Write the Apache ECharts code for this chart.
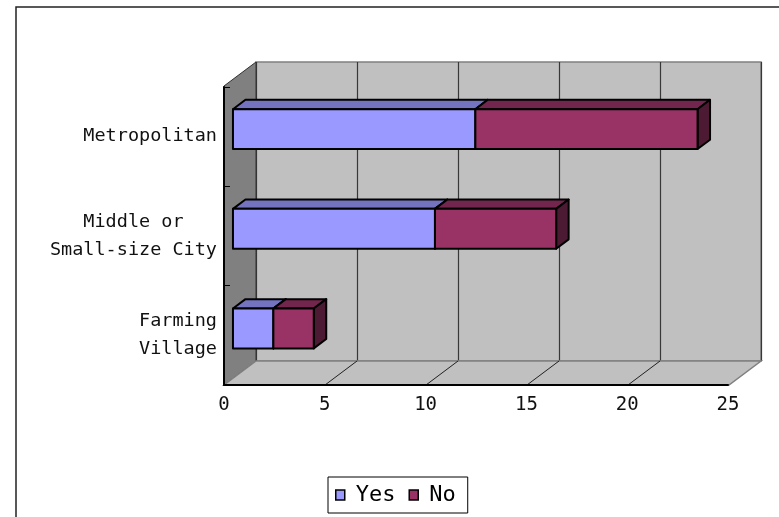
<!DOCTYPE html>
<html>
<head>
<meta charset="utf-8">
<script src="https://cdn.jsdelivr.net/npm/echarts@6/dist/echarts.min.js"></script>
<style>
  html, body { margin: 0; padding: 0; background: #fff; }
  #chart { width: 779px; height: 517px; }
</style>
</head>
<body>
<div id="chart"></div>
<script>
// data
const categories = ['Metropolitan', 'Middle or\nSmall-size City', 'Farming\nVillage'];
const yesValues = [12, 10, 2];
const noValues = [11, 6, 2];
const floorTicks = [5, 10, 15, 20];

const FONT = 'DejaVu Sans Mono';
// depth of the 3d box (front floor edge relative to back wall)
const DX = -32, DY = 24;
// where the bars sit inside that depth (0 = back wall, 1 = front)
const BAR_FRONT = 0.72, BAR_BACK = 0.33;

const chart = echarts.init(document.getElementById('chart'));

// stack Yes + No
const yesData = yesValues.map((v, i) => [0, v, i]);
const noData = noValues.map((v, i) => [yesValues[i], yesValues[i] + v, i]);

function centerLines(text) {
  const lines = text.split('\n');
  const w = Math.max(...lines.map(l => l.length));
  return lines.map(l => l + ' '.repeat(Math.floor((w - l.length) / 2))).join('\n');
}

function renderWalls(params, api) {
  const cs = params.coordSys;
  const x0 = cs.x, y0 = cs.y, x1 = cs.x + cs.width, y1 = cs.y + cs.height;
  const children = [
    { // left side wall
      type: 'polygon',
      shape: { points: [[x0, y0], [x0, y1], [x0 + DX, y1 + DY], [x0 + DX, y0 + DY]] },
      style: { fill: '#808080', stroke: '#303030', lineWidth: 1 }
    },
    { // floor
      type: 'polygon',
      shape: { points: [[x0, y1], [x1, y1], [x1 + DX, y1 + DY], [x0 + DX, y1 + DY]] },
      style: { fill: '#c0c0c0', stroke: '#808080', lineWidth: 1.5 }
    }
  ];
  floorTicks.forEach(v => {
    const x = api.coord([v, 0])[0];
    children.push({
      type: 'line',
      shape: { x1: x, y1: y1, x2: x + DX, y2: y1 + DY },
      style: { stroke: '#202020', lineWidth: 1 }
    });
  });
  return { type: 'group', children: children };
}

function makeBarRenderer(front, top, side) {
  return function (params, api) {
    const lo = api.coord([api.value(0), api.value(2)]);
    const hi = api.coord([api.value(1), api.value(2)]);
    const h = api.size([0, 1])[1] * 0.4;
    const fx = DX * BAR_FRONT, fy = DY * BAR_FRONT;
    const bx = DX * BAR_BACK, by = DY * BAR_BACK;
    const fx0 = lo[0] + fx, fx1 = hi[0] + fx, ft = lo[1] + fy - h / 2;
    const bx0 = lo[0] + bx, bx1 = hi[0] + bx, bt = lo[1] + by - h / 2;
    const line = { stroke: '#000', lineWidth: 2, lineJoin: 'round' };
    return {
      type: 'group',
      children: [
        { type: 'polygon', shape: { points: [[fx0, ft], [fx1, ft], [bx1, bt], [bx0, bt]] },
          style: Object.assign({ fill: top }, line) },
        { type: 'polygon', shape: { points: [[fx1, ft], [bx1, bt], [bx1, bt + h], [fx1, ft + h]] },
          style: Object.assign({ fill: side }, line) },
        { type: 'rect', shape: { x: fx0, y: ft, width: fx1 - fx0, height: h },
          style: Object.assign({ fill: front }, line) }
      ]
    };
  };
}

const option = {
  animation: false,
  backgroundColor: '#fff',
  graphic: [{
    type: 'rect',
    shape: { x: 16, y: 7, width: 820, height: 600 },
    style: { fill: 'none', stroke: '#222', lineWidth: 1.5 },
    z: 0
  }],
  legend: {
    data: ['Yes', 'No'],
    left: 328,
    top: 477,
    orient: 'horizontal',
    padding: [7, 12, 7, 7],
    itemGap: 13,
    itemWidth: 9,
    itemHeight: 10,
    borderColor: '#000',
    borderWidth: 1,
    icon: 'rect',
    itemStyle: { borderColor: '#000', borderWidth: 1.5 },
    textStyle: { fontFamily: FONT, fontSize: 22, color: '#000', padding: [0, 0, 0, 6] }
  },
  grid: [
    { // back wall
      left: 256, top: 62, width: 505, height: 299,
      show: true, backgroundColor: '#c0c0c0', borderColor: '#808080', borderWidth: 1.5,
      outerBoundsMode: 'none'
    },
    { // front plane, carries the visible axes
      left: 224, top: 87, width: 504, height: 298,
      outerBoundsMode: 'none'
    }
  ],
  xAxis: [
    {
      gridIndex: 0, type: 'value', min: 0, max: 25, interval: 5,
      axisLabel: { show: false }, axisLine: { show: false }, axisTick: { show: false },
      splitLine: { show: true, lineStyle: { color: '#383838', width: 1.2 } }
    },
    {
      gridIndex: 1, type: 'value', min: 0, max: 25, interval: 5, z: 5,
      axisLabel: { fontFamily: FONT, fontSize: 19, color: '#111', margin: 11 },
      axisLine: { show: true, lineStyle: { color: '#000', width: 2 } },
      axisTick: { show: false },
      splitLine: { show: false }
    }
  ],
  yAxis: [
    {
      gridIndex: 0, type: 'category', data: categories, inverse: true, show: false
    },
    {
      gridIndex: 1, type: 'category', data: categories, inverse: true, z: 5,
      axisLine: { show: true, lineStyle: { color: '#000', width: 2 } },
      axisTick: { show: true, inside: true, length: 6, lineStyle: { color: '#000' } },
      axisLabel: {
        fontFamily: FONT, fontSize: 18.5, color: '#111', margin: 7, lineHeight: 28,
        formatter: centerLines
      },
      splitLine: { show: false }
    }
  ],
  series: [
    {
      name: 'walls', type: 'custom', xAxisIndex: 0, yAxisIndex: 0,
      data: [[0, 0]], renderItem: renderWalls, z: 1, silent: true
    },
    {
      name: 'Yes', type: 'custom', xAxisIndex: 0, yAxisIndex: 0,
      data: yesData, encode: { x: [0, 1], y: 2 },
      itemStyle: { color: '#9999ff' },
      renderItem: makeBarRenderer('#9999ff', '#7373c0', '#5c5c99'), z: 3
    },
    {
      name: 'No', type: 'custom', xAxisIndex: 0, yAxisIndex: 0,
      data: noData, encode: { x: [0, 1], y: 2 },
      itemStyle: { color: '#993366' },
      renderItem: makeBarRenderer('#993366', '#73264d', '#4d1a33'), z: 3
    }
  ]
};

chart.setOption(option);
</script>
</body>
</html>
